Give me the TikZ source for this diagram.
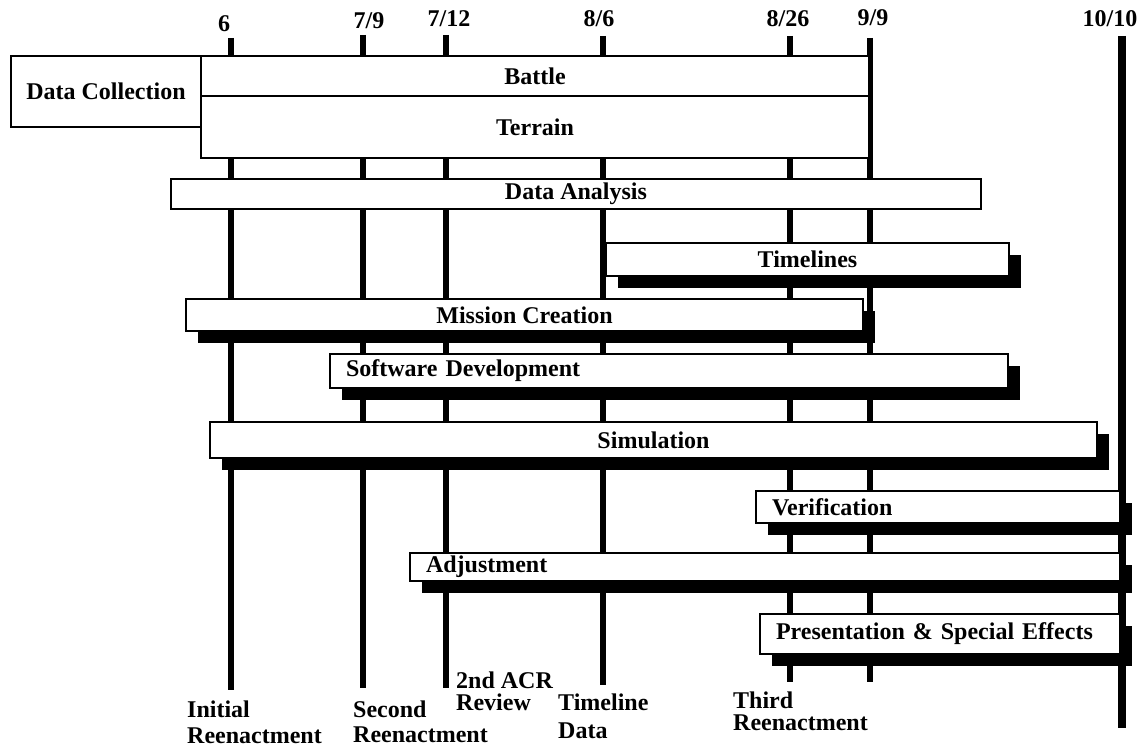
\documentclass[tikz,border=0pt]{standalone}
\usepackage{fontspec}
\setmainfont{Liberation Serif}
\usetikzlibrary{shadows}
\begin{document}
\begin{tikzpicture}[x=1pt,y=-1pt,
  every node/.style={font=\bfseries\fontsize{24}{27}\selectfont},
  mline/.style={line width=6pt},
  fline/.style={line width=8pt},
  bar/.style={draw, line width=2pt, fill=white, inner sep=0pt, anchor=north west},
  shad/.style={drop shadow={shadow xshift=12pt, shadow yshift=-12pt, fill=black, opacity=1}},
  leftbar/.style={inner xsep=16pt, align=left},
  lbl/.style={anchor=base west, inner sep=0pt},
  dlbl/.style={anchor=base, inner sep=0pt}]
\useasboundingbox (0,0) rectangle (1142,746);

% milestone lines
\coordinate (t6) at (231,38);   \coordinate (b6) at (231,690);
\coordinate (t79) at (363,35);  \coordinate (b79) at (363,688);
\coordinate (t712) at (446,35); \coordinate (b712) at (446,688);
\coordinate (t86) at (603,36);  \coordinate (b86) at (603,685);
\coordinate (t826) at (790,36); \coordinate (b826) at (790,682);
\coordinate (t99) at (870,38);  \coordinate (b99) at (870,682);
\coordinate (t1010) at (1122,36); \coordinate (b1010) at (1122,728);
\draw[mline] (t6) -- (b6);
\draw[mline] (t79) -- (b79);
\draw[mline] (t712) -- (b712);
\draw[mline] (t86) -- (b86);
\draw[mline] (t826) -- (b826);
\draw[mline] (t99) -- (b99);
\draw[fline] (t1010) -- (b1010);

% date labels
\node[dlbl] (d6) at (224,32) {6};
\node[dlbl] (d79) at (369,29) {7/9};
\node[dlbl] (d712) at (449,27) {7/12};
\node[dlbl] (d86) at (599,27) {8/6};
\node[dlbl] (d826) at (788,27) {8/26};
\node[dlbl] (d99) at (873,26) {9/9};
\node[dlbl] (d1010) at (1110,27) {10/10};

% data collection group
\node[bar, minimum width=190pt, minimum height=71pt] (dc) at (10,55) {Data Collection};
\node[bar, minimum width=668pt, minimum height=40pt] (battle) at (200,55) {Battle};
\node[bar, minimum width=668pt, minimum height=62pt] (terrain) at (200,95) {Terrain};

% task bars
\node[bar, minimum width=810pt, minimum height=30pt] (analysis) at (170,178) {Data Analysis};
\node[bar, shad, minimum width=403pt, minimum height=33pt] (timelines) at (605,242) {Timelines};
\node[bar, shad, minimum width=677pt, minimum height=32pt] (mission) at (185,298) {Mission Creation};
\node[bar, shad, leftbar, minimum width=678pt, text width=646pt, minimum height=34pt] (software) at (329,353) {Software Development};
\node[bar, shad, minimum width=887pt, minimum height=36pt] (simulation) at (209,421) {Simulation};
\node[bar, shad, leftbar, minimum width=364pt, text width=332pt, minimum height=32pt] (verification) at (755,490) {Verification};
\node[bar, shad, leftbar, minimum width=710pt, text width=678pt, minimum height=28pt] (adjustment) at (409,552) {Adjustment};
\node[bar, shad, leftbar, minimum width=360pt, text width=328pt, minimum height=40pt] (presentation) at (759,613) {Presentation \& Special Effects};

% milestone names
\node[lbl] (ir1) at (187,717) {Initial};
\node[lbl] (ir2) at (187,743) {Reenactment};
\node[lbl] (sr1) at (353,717) {Second};
\node[lbl] (sr2) at (353,742) {Reenactment};
\node[lbl] (acr1) at (456,688) {2nd ACR};
\node[lbl] (acr2) at (456,710) {Review};
\node[lbl] (td1) at (558,710) {Timeline};
\node[lbl] (td2) at (558,738) {Data};
\node[lbl] (tr1) at (733,708) {Third};
\node[lbl] (tr2) at (733,730) {Reenactment};
\end{tikzpicture}
\end{document}
